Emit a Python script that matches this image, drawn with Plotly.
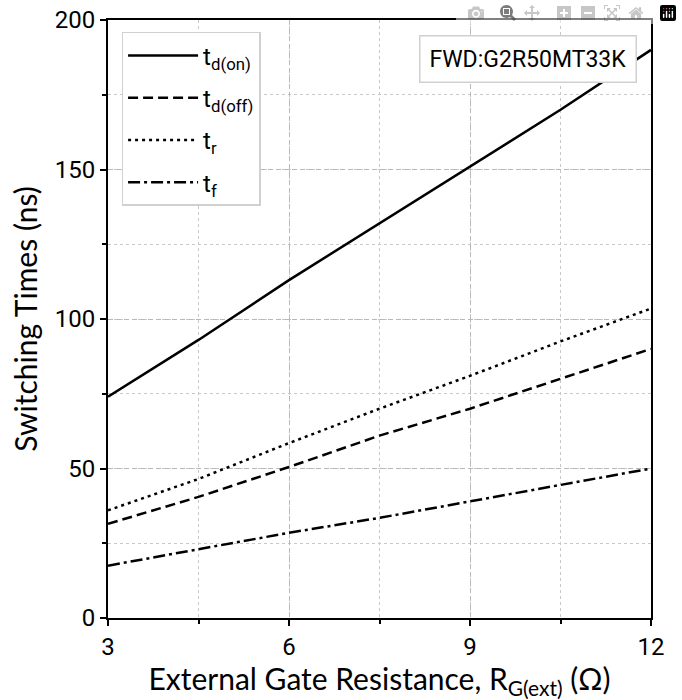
import plotly.graph_objs as go

# gate resistance (ohm) and switching times (ns)
rg_ext = [3, 4.5, 6, 7.5, 9, 10.5, 12]
t_d_on = [74, 93, 113, 132, 151, 170, 190]
t_d_off = [31.5, 40.5, 50.5, 61, 70, 80, 90]
t_r = [36, 46.5, 58.5, 70, 81, 92.5, 103.5]
t_f = [17.5, 23, 28.5, 33.5, 39, 44.5, 50]

x_ticks = [3, 6, 9, 12]
y_ticks = [0, 50, 100, 150, 200]

series = [
    ("t<sub>d(on)</sub>", t_d_on, "solid"),
    ("t<sub>d(off)</sub>", t_d_off, "10px,5px"),
    ("t<sub>r</sub>", t_r, "3px,4px"),
    ("t<sub>f</sub>", t_f, "12px,4px,3px,4px"),
]

tick_font = "Roboto"
title_font = "Lato"

fig = go.Figure()

for name, values, dash in series:
    fig.add_trace(
        go.Scatter(
            x=rg_ext,
            y=values,
            mode="lines",
            line=dict(color="black", width=2.5, dash=dash),
            name=name,
            legendgroup=name,
        )
    )

axis_common = dict(
    showline=True,
    linecolor="black",
    linewidth=2,
    mirror=True,
    ticks="outside",
    ticklen=6,
    tickwidth=1.5,
    tickcolor="black",
    showgrid=True,
    gridcolor="#b8b8b8",
    gridwidth=1,
    griddash="5px,3px",
    zeroline=False,
    automargin=False,
    ticklabeloverflow="allow",
    tickfont=dict(family=tick_font, size=24, color="black"),
)

fig.update_xaxes(
    range=[3, 12],
    tickvals=x_ticks,
    minor=dict(
        dtick=1.5,
        ticks="outside",
        ticklen=4,
        tickcolor="black",
        showgrid=True,
        gridcolor="#c8c8c8",
        griddash="dot",
    ),
    title=dict(
        text="External Gate Resistance, R<sub>G(ext)</sub> (Ω)",
        font=dict(family=title_font, size=30, color="black"),
        standoff=4,
    ),
    **axis_common,
)
fig.update_yaxes(
    range=[0, 200],
    tickvals=y_ticks,
    minor=dict(
        dtick=25,
        ticks="outside",
        ticklen=4,
        tickcolor="black",
        showgrid=True,
        gridcolor="#c8c8c8",
        griddash="dot",
    ),
    title=dict(
        text="Switching Times (ns)",
        font=dict(family=title_font, size=30, color="black"),
        standoff=8,
    ),
    **axis_common,
)

fig.add_annotation(
    x=0.975,
    y=0.975,
    xref="paper",
    yref="paper",
    xanchor="right",
    yanchor="top",
    text="FWD:G2R50MT33K",
    showarrow=False,
    font=dict(family=tick_font, size=23, color="black"),
    bgcolor="white",
    bordercolor="#d0d0d0",
    borderwidth=1.5,
    borderpad=9,
)

fig.update_layout(
    width=682,
    height=700,
    margin=dict(l=108, r=31, t=20, b=82),
    paper_bgcolor="white",
    plot_bgcolor="white",
    font=dict(family=tick_font, color="black"),
    showlegend=True,
    legend=dict(
        x=0.025,
        y=0.98,
        xanchor="left",
        yanchor="top",
        bgcolor="white",
        bordercolor="#d0d0d0",
        borderwidth=1.5,
        font=dict(family=tick_font, size=24, color="black"),
        itemwidth=70,
        tracegroupgap=8,
    ),
)

# drop the default page margin so the figure sits at the window's corner
fig.write_html("out.html", post_script="document.body.style.margin = '0px';")
